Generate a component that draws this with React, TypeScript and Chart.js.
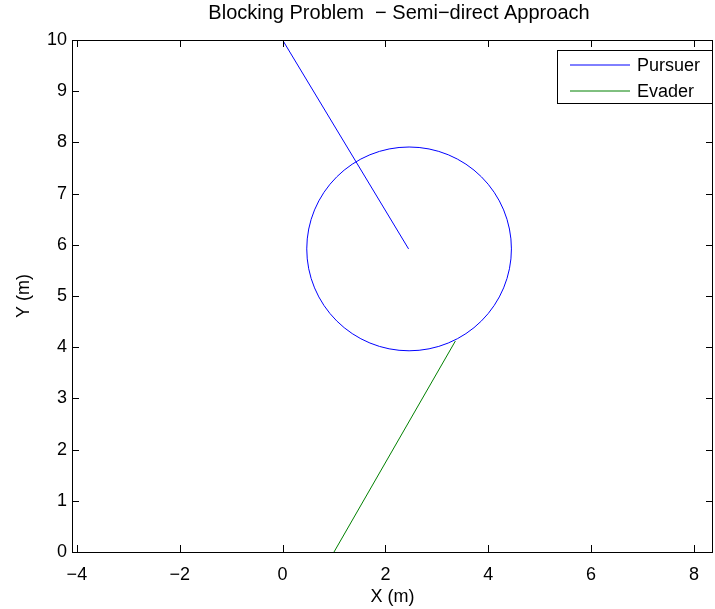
import React, { useEffect, useRef } from "react";
import { Chart, registerables } from "chart.js";

Chart.register(...registerables);

const titleText = "Blocking Problem  \u2212 Semi\u2212direct Approach";
const seriesLabels = ["Pursuer", "Evader"];
const seriesColors = ["#0000ff", "#008000"];
const pursuerX = [0, 2.45];
const pursuerY = [10, 5.92];
const evaderX = [1.0, 3.36];
const evaderY = [0, 4.12];
const circleCenter = [2.46, 5.92];
const circleRadius = 1.99;
const xLimits = [-4.095, 8.37];
const yLimits = [0, 10];
const xStep = 2;
const yStep = 1;

const FONT = "'Liberation Sans', Arial, Helvetica, sans-serif";
const FS = 18;

const boxPlugin = {
  id: "matlabBox",
  afterDatasetsDraw(chart: any) {
    const { ctx, chartArea: a, scales } = chart;
    const xs = scales.x;
    const ys = scales.y;
    ctx.save();
    // capture circle
    const cx = xs.getPixelForValue(circleCenter[0]);
    const cy = ys.getPixelForValue(circleCenter[1]);
    const rx = Math.abs(xs.getPixelForValue(circleCenter[0] + circleRadius) - cx);
    const ry = Math.abs(ys.getPixelForValue(circleCenter[1] + circleRadius) - cy);
    ctx.beginPath();
    ctx.ellipse(cx, cy, rx, ry, 0, 0, Math.PI * 2);
    ctx.strokeStyle = seriesColors[0];
    ctx.lineWidth = 1;
    ctx.stroke();

    // box
    ctx.strokeStyle = "#000000";
    ctx.lineWidth = 1;
    ctx.strokeRect(Math.round(a.left) + 0.5, Math.round(a.top) + 0.5, Math.round(a.right - a.left) - 1, Math.round(a.bottom - a.top));
    const tl = 7;
    ctx.beginPath();
    xs.ticks.forEach((t: any) => {
      const px = Math.round(xs.getPixelForValue(t.value)) + 0.5;
      ctx.moveTo(px, a.bottom);
      ctx.lineTo(px, a.bottom - tl);
      ctx.moveTo(px, a.top);
      ctx.lineTo(px, a.top + tl);
    });
    ys.ticks.forEach((t: any) => {
      const py = Math.round(ys.getPixelForValue(t.value)) + 0.5;
      ctx.moveTo(a.left, py);
      ctx.lineTo(a.left + tl, py);
      ctx.moveTo(a.right, py);
      ctx.lineTo(a.right - tl, py);
    });
    ctx.stroke();
    ctx.restore();

    // title (centred over the axes as in the original)
    ctx.save();
    ctx.font = "20px " + FONT;
    ctx.fillStyle = "#000000";
    ctx.textAlign = "center";
    ctx.textBaseline = "middle";
    ctx.fillText(titleText, 399, 13);
    ctx.restore();

    // legend
    const lx = 557, ly = 50, lw = 155, lh = 53;
    ctx.save();
    ctx.fillStyle = "#ffffff";
    ctx.fillRect(lx, ly, lw, lh);
    ctx.strokeStyle = "#000000";
    ctx.lineWidth = 1;
    ctx.strokeRect(lx + 0.5, ly + 0.5, lw, lh);
    seriesLabels.forEach((lab, i) => {
      const yy = ly + 15 + i * 26;
      ctx.beginPath();
      ctx.strokeStyle = seriesColors[i];
      ctx.lineWidth = 1;
      ctx.moveTo(570, yy);
      ctx.lineTo(630, yy);
      ctx.stroke();
    });
    ctx.font = FS + "px " + FONT;
    ctx.textBaseline = "middle";
    ctx.textAlign = "left";
    ctx.fillStyle = "#000000";
    seriesLabels.forEach((lab, i) => {
      const yy = ly + 15 + i * 26;
      ctx.fillText(lab, 637, yy + 1);
    });
    ctx.restore();
  },
};

const fmt = (v: any) => String(v).replace("-", "\u2212");

export default function App() {
  const ref = useRef<HTMLCanvasElement | null>(null);
  useEffect(() => {
    document.body.style.margin = "0";
    const canvas = ref.current!;
    const chart = new Chart(canvas, {
      type: "line",
      data: {
        datasets: [
          {
            label: seriesLabels[0],
            data: pursuerX.map((x, i) => ({ x, y: pursuerY[i] })),
            borderColor: seriesColors[0],
            borderWidth: 1,
            pointRadius: 0,
            fill: false,
          },
          {
            label: seriesLabels[1],
            data: evaderX.map((x, i) => ({ x, y: evaderY[i] })),
            borderColor: seriesColors[1],
            borderWidth: 1,
            pointRadius: 0,
            fill: false,
          },
        ],
      },
      options: {
        animation: false,
        responsive: false,
        devicePixelRatio: 1,
        layout: { padding: { left: 0, right: 2, top: 40, bottom: 0 } },
        plugins: {
          legend: { display: false },
          tooltip: { enabled: false },
          title: { display: false },
        },
        scales: {
          x: {
            type: "linear",
            min: xLimits[0],
            max: xLimits[1],
            grid: { display: false, drawTicks: false },
            border: { display: false },
            ticks: {
              stepSize: xStep,
              includeBounds: false,
              color: "#000",
              font: { family: FONT, size: FS },
              padding: 12,
              maxRotation: 0,
              callback: (v: any) => fmt(v),
            },
            title: {
              display: true,
              text: "X (m)",
              color: "#000",
              font: { family: FONT, size: FS, lineHeight: 1.2 },
              padding: { top: 0, bottom: 1 },
            },
            afterFit: (s: any) => {
              s.height = 57;
            },
          },
          y: {
            type: "linear",
            min: yLimits[0],
            max: yLimits[1],
            grid: { display: false, drawTicks: false },
            border: { display: false },
            ticks: {
              stepSize: yStep,
              color: "#000",
              font: { family: FONT, size: FS },
              padding: 5,
              callback: (v: any) => fmt(v),
            },
            title: {
              display: true,
              text: "Y (m)",
              color: "#000",
              font: { family: FONT, size: FS, lineHeight: 1.2 },
              padding: { top: 13, bottom: 0 },
            },
            afterFit: (s: any) => {
              s.width = 72;
            },
          },
        },
      },
      plugins: [boxPlugin],
    });
    return () => chart.destroy();
  }, []);
  return (
    <canvas
      ref={ref}
      width={715}
      height={609}
      style={{ display: "block", width: 715, height: 609 }}
    />
  );
}
